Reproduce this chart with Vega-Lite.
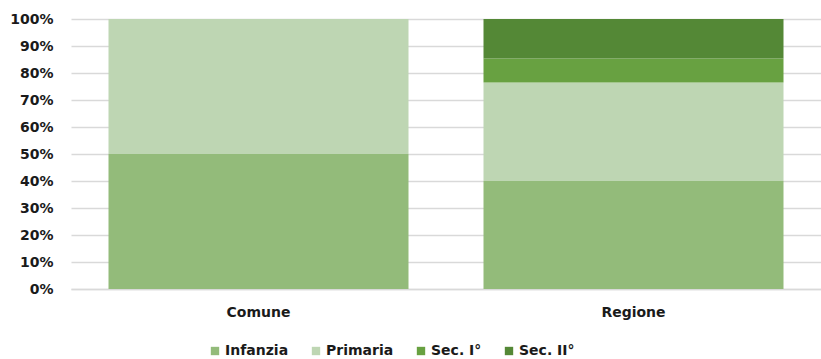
{
  "$schema": "https://vega.github.io/schema/vega-lite/v6.json",
  "autosize": "none",
  "width": 750,
  "height": 270,
  "padding": {"left": 71, "top": 19, "right": 0, "bottom": 70},
  "background": "white",
  "data": {"values": [
    {"area": "Comune", "livello": "Infanzia", "ord": 1, "pct": 50},
    {"area": "Comune", "livello": "Primaria", "ord": 2, "pct": 50},
    {"area": "Comune", "livello": "Sec. I°", "ord": 3, "pct": 0},
    {"area": "Comune", "livello": "Sec. II°", "ord": 4, "pct": 0},
    {"area": "Regione", "livello": "Infanzia", "ord": 1, "pct": 40},
    {"area": "Regione", "livello": "Primaria", "ord": 2, "pct": 36.5},
    {"area": "Regione", "livello": "Sec. I°", "ord": 3, "pct": 8.9},
    {"area": "Regione", "livello": "Sec. II°", "ord": 4, "pct": 14.6}
  ]},
  "config": {
    "view": {"stroke": null},
    "font": "DejaVu Sans",
    "axis": {"labelFont": "DejaVu Sans", "labelFontWeight": "bold", "labelFontSize": 14, "labelColor": "#1a1a1a"},
    "legend": {"labelFont": "DejaVu Sans", "labelFontWeight": "bold", "labelFontSize": 14, "labelColor": "#1a1a1a"}
  },
  "mark": {"type": "bar"},
  "encoding": {
    "x": {
      "field": "area", "type": "nominal",
      "scale": {"paddingInner": 0.2, "paddingOuter": 0.1},
      "axis": {"title": null, "labelAngle": 0, "ticks": false, "domainColor": "#d9d9d9", "domainWidth": 1.5, "labelPadding": 16}
    },
    "y": {
      "field": "pct", "type": "quantitative", "stack": "normalize",
      "scale": {"domain": [0, 1]},
      "axis": {"title": null, "values": [0, 0.1, 0.2, 0.3, 0.4, 0.5, 0.6, 0.7, 0.8, 0.9, 1], "format": ".0%", "domain": false, "ticks": false, "labelPadding": 18, "gridColor": "#d9d9d9", "gridWidth": 1.5}
    },
    "order": {"field": "ord", "type": "quantitative", "sort": "ascending"},
    "color": {
      "field": "livello", "type": "nominal",
      "sort": ["Infanzia", "Primaria", "Sec. I°", "Sec. II°"],
      "scale": {"domain": ["Infanzia", "Primaria", "Sec. I°", "Sec. II°"], "range": ["#93bb7a", "#bed6b3", "#68a141", "#548836"]},
      "legend": {"title": null, "orient": "none", "legendX": 137, "legendY": 325, "direction": "horizontal", "symbolType": "square", "symbolSize": 70, "symbolStrokeWidth": 0, "columnPadding": 20, "labelOffset": 3}
    }
  }
}
